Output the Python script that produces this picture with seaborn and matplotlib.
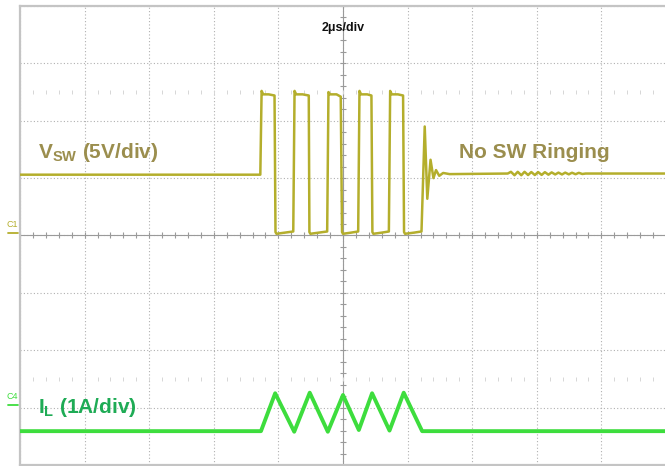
"""Capture oscilloscope : VSW et courant inductance, 2us/div."""

import matplotlib
matplotlib.use("Agg")
import matplotlib.pyplot as plt
import matplotlib.transforms as mtransforms
import numpy as np
import pandas as pd
import seaborn as sns

vsw_t = [-10.0, -2.56, -2.52, -2.47, -2.30, -2.12, -2.09, -2.06, -1.80, -1.54,
         -1.50, -1.45, -1.25, -1.06, -1.04, -1.01, -0.75, -0.49, -0.45, -0.40,
         -0.20, -0.07, -0.03, 0.00, 0.25, 0.47, 0.51, 0.56, 0.75, 0.88, 0.91,
         0.94, 1.20, 1.42, 1.46, 1.51, 1.70, 1.86, 1.89, 1.92, 2.20, 2.43,
         2.53, 2.61, 2.71, 2.80, 2.88, 2.98, 3.10, 3.30, 5.10]
vsw_v = [5.3, 5.3, 12.6, 12.3, 12.3, 12.2, 0.3, 0.15, 0.25, 0.35,
         12.6, 12.3, 12.3, 12.2, 0.3, 0.15, 0.25, 0.35, 12.5, 12.3,
         12.3, 12.1, 0.3, 0.15, 0.25, 0.35, 12.6, 12.3, 12.3, 12.2, 0.3,
         0.15, 0.25, 0.35, 12.6, 12.3, 12.3, 12.2, 0.3, 0.15, 0.25, 0.35,
         9.5, 3.2, 6.6, 5.0, 5.7, 5.2, 5.45, 5.35, 5.4]

# petite oscillation résiduelle après la commutation
ring_t = [5.20, 5.31, 5.41, 5.52, 5.62, 5.73, 5.83, 5.94, 6.04, 6.15, 6.25,
          6.36, 6.46, 6.57, 6.67, 6.78, 6.88, 6.99, 7.09, 7.20, 7.30, 7.41,
          7.51, 10.0]
ring_v = [5.55, 5.25, 5.55, 5.25, 5.55, 5.27, 5.53, 5.27, 5.53, 5.28, 5.52,
          5.3, 5.5, 5.32, 5.48, 5.32, 5.48, 5.33, 5.47, 5.34, 5.46, 5.36,
          5.4, 5.4]

il_t = [-10.0, -2.54, -2.10, -1.51, -1.03, -0.47, 0.00, 0.49, 0.90, 1.44,
        1.88, 2.45, 10.0]
il_a = [-0.41, -0.41, 0.25, -0.42, 0.26, -0.42, 0.22, -0.39, 0.25, -0.40,
        0.26, -0.41, -0.41]

VSW_SCALE = 5.0   # V/div
IL_SCALE = 1.0    # A/div
IL_OFFSET = -3.0  # position de C4 (div)

COL_VSW = "#b4ae2c"
COL_VSW_TXT = "#9b8e4e"
COL_IL = "#3ddd3d"
COL_IL_TXT = "#1eab55"
COL_GRID = "#b0b0b0"

sns.set_theme(style="white")
plt.rcParams["font.family"] = ["Liberation Sans", "DejaVu Sans"]
plt.rcParams["mathtext.fontset"] = "custom"
plt.rcParams["mathtext.bf"] = "Liberation Sans:bold"
plt.rcParams["mathtext.rm"] = "Liberation Sans:bold"

vsw = pd.DataFrame({"t": vsw_t + ring_t, "v": vsw_v + ring_v})
vsw["div"] = vsw["v"] / VSW_SCALE
il = pd.DataFrame({"t": il_t, "a": il_a})
il["div"] = il["a"] / IL_SCALE + IL_OFFSET

fig = plt.figure(figsize=(6.65, 4.66), dpi=100)
ax = fig.add_axes([20 / 665, 1 / 466, 646 / 665, 459 / 466])
ax.set_xlim(-10, 10)
ax.set_ylim(-4, 4)

# graticule
ax.set_xticks(np.arange(-10, 11, 2))
ax.set_yticks(np.arange(-4, 5, 1))
ax.tick_params(length=0, labelbottom=False, labelleft=False)
ax.grid(True, color=COL_GRID, linestyle=(0, (1, 2)), linewidth=0.8)
ax.axhline(0, color="#9a9a9a", lw=0.8, zorder=1)
ax.axvline(0, color="#9a9a9a", lw=0.8, zorder=1)
minor_x = np.arange(-10, 10.01, 0.4)
minor_y = np.arange(-4, 4.01, 0.2)
ax.plot(minor_x, np.zeros_like(minor_x), ls="none", marker="|", ms=5,
        mew=0.8, color="#9a9a9a", zorder=1)
ax.plot(np.zeros_like(minor_y), minor_y, ls="none", marker="_", ms=5,
        mew=0.8, color="#9a9a9a", zorder=1)
for yy in (2.5, -2.5):
    ax.plot(minor_x, np.full_like(minor_x, yy), ls="none", marker="|", ms=3,
            mew=0.7, color="#d6d6d6", zorder=1)
for side in ("left", "top", "bottom"):
    ax.spines[side].set_color("#c4c4c4")
    ax.spines[side].set_linewidth(1.6)
ax.spines["right"].set_visible(False)

# traces
sns.lineplot(data=vsw, x="t", y="div", sort=False, estimator=None,
             color=COL_VSW, linewidth=1.8, ax=ax, zorder=3)
sns.lineplot(data=il, x="t", y="div", sort=False, estimator=None,
             color=COL_IL, linewidth=2.8, ax=ax, zorder=3)
ax.set_xlabel("")
ax.set_ylabel("")

# textes
ax.text(0, 3.62, "2\u03bcs/div", ha="center", va="center", fontsize=9,
        fontweight="bold", color="#111111")
ax.text(-9.45, 1.45, r"$\mathbf{V_{SW}}$ (5V/div)", ha="left", va="center",
        fontsize=15, fontweight="bold", color=COL_VSW_TXT)
ax.text(3.58, 1.45, "No SW Ringing", ha="left", va="center",
        fontsize=15, fontweight="bold", color=COL_VSW_TXT)
ax.text(-9.45, -2.99, r"$\mathbf{I_{L}}$ (1A/div)", ha="left", va="center",
        fontsize=15, fontweight="bold", color=COL_IL_TXT)

# repères de voie à gauche
trans = mtransforms.blended_transform_factory(ax.transAxes, ax.transData)
for lab, pos, col in (("C1", 0.0, COL_VSW), ("C4", IL_OFFSET, COL_IL)):
    ax.text(-0.0125, pos + 0.2, lab, transform=trans, ha="center",
            va="center", fontsize=6.5, color=col)
    ax.plot([-0.018, -0.003], [pos + 0.05, pos + 0.05], transform=trans,
            clip_on=False, color=col, lw=1.3)

fig.savefig("out.png", dpi=100)
